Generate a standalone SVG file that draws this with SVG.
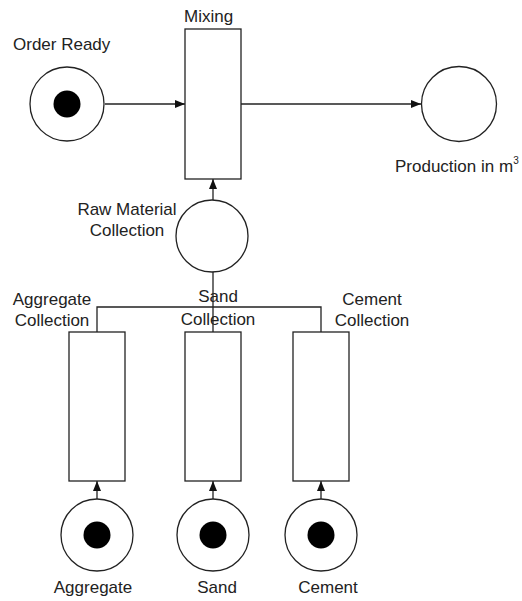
<svg xmlns="http://www.w3.org/2000/svg" width="522" height="601" viewBox="0 0 522 601">
<defs>
<marker id="ah" viewBox="0 0 10 8" refX="10" refY="4" markerWidth="10" markerHeight="8" markerUnits="userSpaceOnUse" orient="auto">
<path d="M0,0 L10,4 L0,8 Z" fill="#111"/>
</marker>
</defs>
<style>
.pl{fill:#fff;stroke:#222;stroke-width:1.3}
.tk{fill:#000}
.tr{fill:#fff;stroke:#222;stroke-width:1.3}
.ln{fill:none;stroke:#222;stroke-width:1.3}
.ar{fill:none;stroke:#222;stroke-width:1.3;marker-end:url(#ah)}
text{font-family:"Liberation Sans",Arial,sans-serif;font-size:17px;fill:#222}
.m{text-anchor:middle}
</style>
<rect width="522" height="601" fill="#fff"/>
<g id="connectors">
<path class="ar" d="M105,104 H185"/>
<path class="ar" d="M241,104 H421"/>
<path class="ar" d="M213,200 V179"/>
<path class="ln" d="M213,272 V332"/>
<path class="ln" d="M97,332 V307 H321 V332"/>
<path class="ar" d="M97,499 V481"/>
<path class="ar" d="M213,499 V481"/>
<path class="ar" d="M321,499 V481"/>
</g>
<g id="order-ready">
<circle class="pl" cx="67" cy="104" r="37"/>
<circle class="tk" cx="67" cy="104" r="13.5"/>
<text x="13" y="50">Order Ready</text>
</g>
<g id="mixing">
<rect class="tr" x="185" y="29" width="56" height="150"/>
<text x="184" y="22">Mixing</text>
</g>
<g id="production">
<circle class="pl" cx="459" cy="104" r="37.5"/>
<text x="395" y="172">Production in m<tspan font-size="10" dy="-8">3</tspan></text>
</g>
<g id="raw-material">
<circle class="pl" cx="212" cy="236" r="36"/>
<text class="m" x="127" y="215">Raw Material</text>
<text class="m" x="127" y="236">Collection</text>
</g>
<g id="aggregate-collection">
<rect class="tr" x="69" y="332" width="56" height="149"/>
<text class="m" x="52" y="305">Aggregate</text>
<text class="m" x="52" y="326">Collection</text>
</g>
<g id="sand-collection">
<rect class="tr" x="185" y="332" width="56" height="149"/>
<text class="m" x="218" y="302">Sand</text>
<text class="m" x="218" y="325">Collection</text>
</g>
<g id="cement-collection">
<rect class="tr" x="293" y="332" width="56" height="149"/>
<text class="m" x="372" y="305">Cement</text>
<text class="m" x="372" y="326">Collection</text>
</g>
<g id="aggregate">
<circle class="pl" cx="97" cy="535" r="36"/>
<circle class="tk" cx="97" cy="535" r="13.5"/>
<text class="m" x="93" y="593">Aggregate</text>
</g>
<g id="sand">
<circle class="pl" cx="213" cy="535" r="36"/>
<circle class="tk" cx="213" cy="535" r="13.5"/>
<text class="m" x="217" y="593">Sand</text>
</g>
<g id="cement">
<circle class="pl" cx="321" cy="535" r="36"/>
<circle class="tk" cx="321" cy="535" r="13.5"/>
<text class="m" x="328" y="593">Cement</text>
</g>
</svg>
